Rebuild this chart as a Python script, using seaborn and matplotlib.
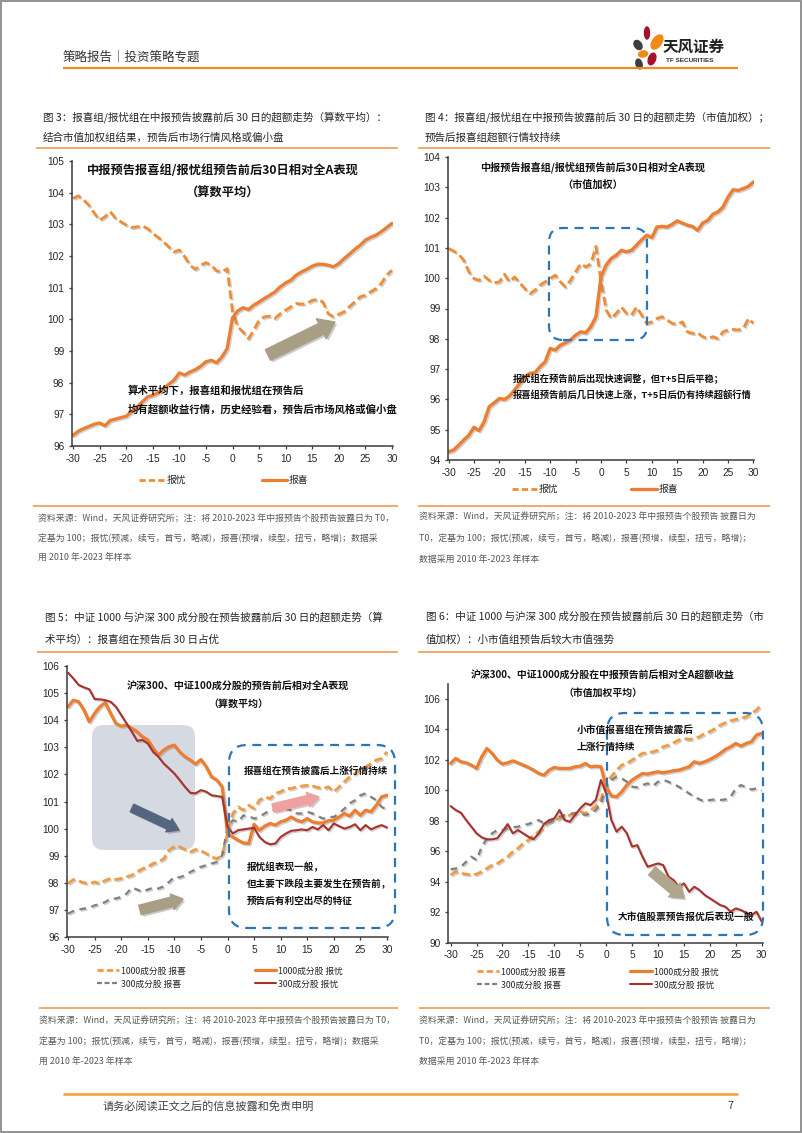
import matplotlib
matplotlib.use('Agg')
import numpy as np
import pandas as pd
import seaborn as sns
import matplotlib.pyplot as plt
import matplotlib.patheffects as pe
import matplotlib.transforms as mtransforms
from matplotlib.patches import FancyBboxPatch, FancyArrowPatch, Ellipse, Rectangle
from matplotlib.lines import Line2D

# ---------------- data ----------------
days = list(range(-30, 31))
xticks = list(range(-30, 31, 5))

# Fig 3 (arithmetic mean)
c1_you = [103.82, 103.90, 103.77, 103.60, 103.35, 103.13, 103.24, 103.40, 103.19, 103.08,
          102.98, 102.90, 102.92, 102.95, 102.87, 102.71, 102.59, 102.45, 102.29, 102.13,
          102.19, 101.98, 101.71, 101.58, 101.71, 101.79, 101.71, 101.53, 101.50, 101.60,
          100.25, 99.76, 99.60, 99.39, 99.66, 99.97, 100.08, 100.10, 100.03, 100.18,
          100.29, 100.40, 100.50, 100.48, 100.50, 100.60, 100.63, 100.55, 100.18, 100.08,
          100.16, 100.24, 100.40, 100.55, 100.71, 100.76, 100.87, 100.97, 101.13, 101.40, 101.55]
c1_xi = [96.34, 96.47, 96.55, 96.62, 96.69, 96.73, 96.64, 96.81, 96.85, 96.90,
         96.94, 97.08, 97.23, 97.39, 97.55, 97.60, 97.68, 97.81, 97.95, 98.08,
         98.31, 98.24, 98.34, 98.41, 98.52, 98.66, 98.71, 98.63, 98.81, 99.08,
         100.05, 100.27, 100.37, 100.31, 100.45, 100.55, 100.66, 100.76, 100.87, 101.03,
         101.15, 101.24, 101.40, 101.50, 101.58, 101.68, 101.74, 101.74, 101.71, 101.66,
         101.76, 101.92, 102.06, 102.21, 102.34, 102.50, 102.59, 102.66, 102.77, 102.90, 103.03]

# Fig 4 (market-cap weighted)
c2_you = [100.98, 100.90, 100.79, 100.59, 100.21, 99.99, 99.93, 100.07, 99.93, 99.85,
          99.88, 100.13, 99.88, 100.04, 99.85, 99.66, 99.49, 99.60, 99.77, 99.88,
          99.99, 100.10, 99.88, 99.71, 99.93, 100.21, 100.48, 100.37, 100.48, 101.05,
          99.90, 98.95, 98.67, 98.84, 99.05, 98.84, 98.78, 99.05, 98.78, 98.51,
          98.56, 98.67, 98.73, 98.62, 98.51, 98.48, 98.56, 98.23, 98.18, 98.20,
          98.07, 98.01, 98.07, 98.01, 98.23, 98.29, 98.31, 98.29, 98.34, 98.67, 98.51]
c2_xi = [94.27, 94.33, 94.49, 94.66, 94.82, 95.08, 94.97, 95.26, 95.76, 95.89,
         96.03, 96.00, 96.11, 96.31, 96.53, 96.75, 96.86, 96.88, 97.08, 97.24,
         97.68, 97.63, 97.79, 97.87, 97.96, 98.12, 98.23, 98.20, 98.40, 98.73,
         100.05, 100.43, 100.65, 100.76, 100.92, 100.87, 100.92, 101.09, 101.27, 101.42,
         101.34, 101.69, 101.71, 101.69, 101.78, 101.89, 101.82, 101.75, 101.71, 101.58,
         101.82, 101.91, 102.11, 102.19, 102.35, 102.68, 102.92, 102.90, 102.96, 103.03, 103.18]

# Fig 5 (arithmetic mean, index constituents)
c3_1000_xi = [97.97, 98.12, 98.07, 98.00, 97.97, 98.03, 97.97, 98.09, 98.16, 98.12,
              98.16, 98.22, 98.28, 98.40, 98.52, 98.59, 98.71, 98.77, 98.89, 99.20,
              99.35, 99.33, 99.23, 99.14, 99.23, 99.18, 99.08, 98.96, 98.89, 99.02,
              99.82, 100.56, 100.80, 100.68, 100.86, 100.74, 101.05, 101.17, 101.11, 101.30,
              101.36, 101.48, 101.48, 101.54, 101.57, 101.60, 101.57, 101.52, 101.48, 101.54,
              101.36, 101.54, 101.73, 101.91, 102.03, 102.16, 102.28, 102.40, 102.53, 102.59, 102.83]
c3_1000_you = [104.50, 104.74, 104.68, 104.37, 103.94, 104.25, 104.50, 104.65, 104.25, 103.88,
               103.78, 103.82, 103.70, 103.57, 103.39, 103.27, 102.96, 102.71, 102.90, 103.02,
               103.08, 102.83, 102.65, 102.53, 102.38, 102.55, 102.28, 101.91, 101.79, 101.54,
               99.82, 99.69, 99.57, 99.47, 99.45, 100.16, 99.94, 100.09, 100.19, 100.13,
               100.25, 100.31, 100.43, 100.31, 100.25, 100.37, 100.25, 100.21, 100.21, 100.29,
               100.31, 100.43, 100.56, 100.46, 100.68, 100.49, 100.68, 100.62, 100.86, 101.17, 101.23]
c3_300_xi = [96.86, 96.96, 97.01, 97.05, 97.08, 97.17, 97.21, 97.29, 97.42, 97.42,
             97.48, 97.60, 97.82, 97.75, 97.66, 97.75, 97.82, 97.79, 97.87, 98.03,
             98.22, 98.20, 98.28, 98.40, 98.49, 98.59, 98.65, 98.71, 98.77, 99.02,
             100.06, 100.31, 100.25, 100.49, 100.46, 100.37, 100.43, 100.56, 100.68, 100.70,
             100.74, 100.74, 100.68, 100.56, 100.56, 100.62, 100.56, 100.46, 100.37, 100.43,
             100.43, 100.56, 100.74, 100.93, 101.05, 101.23, 101.30, 101.17, 101.05, 100.80, 100.70]
c3_300_you = [105.75, 105.54, 105.30, 105.21, 105.14, 104.78, 104.77, 104.74, 104.68, 104.50,
              104.19, 103.88, 103.57, 103.24, 103.27, 103.14, 102.83, 102.65, 102.40, 102.22,
              102.03, 101.79, 101.54, 101.32, 101.30, 101.42, 101.36, 101.23, 101.20, 101.17,
              100.06, 99.82, 99.94, 99.97, 100.00, 100.03, 99.69, 99.51, 99.42, 99.45,
              99.69, 99.82, 99.92, 99.94, 99.97, 99.94, 100.06, 99.97, 100.13, 99.94,
              100.19, 100.09, 100.00, 100.06, 100.16, 99.94, 100.13, 99.97, 100.06, 100.13, 100.04]

# Fig 6 (market-cap weighted, index constituents)
c4_1000_xi = [94.44, 94.66, 94.55, 94.50, 94.44, 94.50, 94.66, 94.87, 95.09, 95.20,
              95.42, 95.64, 95.97, 96.19, 96.51, 96.73, 97.06, 97.28, 97.61, 97.93,
              98.04, 98.15, 98.26, 98.37, 98.48, 98.59, 98.48, 98.70, 98.92, 99.40,
              100.56, 100.89, 101.32, 101.65, 101.76, 101.98, 102.20, 102.42, 102.46, 102.52,
              102.63, 102.85, 102.96, 103.11, 103.29, 103.40, 103.33, 103.40, 103.51, 103.73,
              103.84, 104.05, 104.27, 104.43, 104.56, 104.64, 104.71, 104.82, 105.04, 105.26, 105.65]
c4_1000_you = [101.76, 102.09, 101.87, 101.80, 101.65, 101.43, 102.20, 102.74, 102.42, 101.98,
               101.72, 101.80, 101.93, 101.80, 101.65, 101.50, 101.32, 101.10, 100.99, 101.32,
               101.50, 101.43, 101.43, 101.43, 101.54, 101.58, 101.76, 101.54, 101.58, 101.54,
               100.23, 99.62, 99.57, 99.90, 100.34, 100.67, 100.89, 101.10, 101.06, 101.15,
               101.21, 101.15, 101.21, 101.28, 101.32, 101.43, 101.54, 101.87, 101.76, 101.87,
               102.02, 102.20, 102.42, 102.68, 102.85, 103.07, 102.90, 103.07, 103.18, 103.62, 103.73]
c4_300_xi = [94.81, 94.87, 94.98, 95.31, 95.64, 95.42, 96.30, 96.84, 97.17, 97.39,
             97.39, 97.50, 97.56, 97.61, 97.72, 97.78, 97.93, 98.04, 97.83, 97.87,
             98.04, 98.26, 98.37, 98.43, 98.52, 98.48, 98.37, 98.48, 98.70, 99.14,
             100.23, 100.67, 100.89, 100.78, 100.56, 100.23, 100.19, 100.34, 100.45, 100.27,
             100.56, 100.67, 100.56, 100.41, 100.23, 100.01, 99.79, 99.57, 99.40, 99.25,
             99.36, 99.40, 99.36, 99.40, 99.57, 100.12, 100.34, 100.19, 100.05, 100.12, 99.97]
c4_300_you = [98.96, 98.70, 98.52, 98.04, 97.61, 97.17, 96.91, 96.78, 96.78, 96.85,
              97.28, 97.78, 97.17, 97.39, 97.17, 96.95, 96.78, 97.17, 97.78, 98.04,
              98.15, 98.70, 98.04, 97.93, 98.37, 98.81, 99.14, 99.03, 99.36, 100.67,
              99.79, 98.04, 97.28, 97.61, 97.17, 96.30, 96.40, 95.64, 94.98, 95.09,
              95.20, 95.09, 94.33, 94.11, 93.67, 93.89, 93.34, 93.67, 93.45, 93.13,
              92.91, 92.69, 92.47, 92.36, 92.03, 92.25, 92.14, 91.97, 91.81, 92.03, 91.38]

lab_you, lab_xi = "报忧", "报喜"
lab_1000_xi, lab_1000_you = "1000成分股 报喜", "1000成分股 报忧"
lab_300_xi, lab_300_you = "300成分股 报喜", "300成分股 报忧"

# ---------------- style ----------------
sns.set_style('ticks')
plt.rcParams['font.family'] = ['Noto Sans CJK SC', 'DejaVu Sans']
plt.rcParams['axes.unicode_minus'] = False

ORANGE = '#ED7D31'
ORANGE_D = '#F08C35'
ORANGE_L = '#F29A42'
GRAY = '#7F7F7F'
RED = '#A8322B'
BLUE = '#2E75B6'
SEP = '#F2A35E'
TXT = '#262626'
SRC = '#595959'

W, H = 802, 1133
fig = plt.figure(figsize=(W / 100, H / 100), dpi=100)
fig.patch.set_facecolor('white')
PX = mtransforms.Affine2D().scale(0.01, -0.01).translate(0, H / 100) + fig.dpi_scale_trans
PXU = mtransforms.Affine2D().scale(0.01) + fig.dpi_scale_trans

shadow = [pe.SimpleLineShadow(offset=(1.0, -1.0), shadow_color='#7a7a7a', alpha=0.35), pe.Normal()]


def ftext(x, y, s, **kw):
    kw.setdefault('va', 'center')
    kw.setdefault('color', TXT)
    fig.text(x, y, s, transform=PX, **kw)


def hline(x0, x1, y, color, lw):
    fig.add_artist(Line2D([x0, x1], [y, y], transform=PX, color=color, lw=lw, solid_capstyle='butt'))


def place(l, t, r, b):
    return fig.add_axes([l / W, 1 - b / H, (r - l) / W, (b - t) / H])


def style_ax(ax, xlim, ylim, yticks):
    ax.set_xlim(*xlim)
    ax.set_ylim(*ylim)
    ax.set_xticks(xticks)
    ax.set_yticks(yticks)
    for s in ['top', 'right']:
        ax.spines[s].set_visible(False)
    for s in ['left', 'bottom']:
        ax.spines[s].set_color('#3a3a3a')
        ax.spines[s].set_linewidth(1.1)
    ax.tick_params(axis='both', labelsize=7.3, colors='#3a3a3a', labelcolor=TXT,
                   length=2.5, width=0.9, direction='out', pad=3)
    for lab in ax.get_xticklabels() + ax.get_yticklabels():
        lab.set_fontfamily('Liberation Sans')
    ax.set_xlabel('')
    ax.set_ylabel('')
    ax.patch.set_alpha(0)


def rbox(ax, x0, y0, x1, y1, r, **kw):
    p = FancyBboxPatch((x0, H - y1), x1 - x0, y1 - y0,
                       boxstyle=f'round,pad=0,rounding_size={r}', transform=PXU, clip_on=False, **kw)
    ax.add_patch(p)


def arrow(ax, x0, y0, x1, y1, color, tail, hw, hl, z=3):
    a = FancyArrowPatch((x0, H - y0), (x1, H - y1), transform=PXU,
                        arrowstyle=f'simple,head_length={hl},head_width={hw},tail_width={tail}',
                        mutation_scale=10, color=color, shrinkA=0, shrinkB=0, clip_on=False, zorder=z,
                        path_effects=[pe.SimplePatchShadow(offset=(1.5, -1.5), alpha=0.25), pe.Normal()])
    ax.add_patch(a)


def atext(ax, x, y, s, size, ha='left', bold=True):
    ax.text(x, y, s, transform=PX, fontsize=size, fontweight='bold' if bold else 'normal',
            ha=ha, va='center', color='#111111', clip_on=False, zorder=5)


def line(ax, y, color, lw, ls, label):
    sns.lineplot(x=days, y=y, ax=ax, color=color, linewidth=lw, linestyle=ls, label=label,
                 path_effects=shadow, zorder=2)


def proxies(ax):
    # plain legend keys with the same colour/width/dash as the drawn lines, without shadow
    hs = []
    for ln in ax.get_lines():
        hs.append(Line2D([], [], color=ln.get_color(), lw=ln.get_linewidth(),
                         linestyle=ln.get_linestyle() if ln.get_linestyle() == '-' else (0, (2.2, 1.2))))
    return hs


# ---------------- page frame & header ----------------
fig.add_artist(Rectangle((0.6, 0.6), W - 1.2, H - 1.2, transform=PXU, fill=False,
                         edgecolor='#8a8a8a', lw=1.3))
ftext(63, 57, "策略报告｜投资策略专题", fontsize=9, color='#333333')
hline(63, 738, 68, '#EE8A2B', 1.6)
for (cx, cy, w, h, ang, col) in [(647, 33, 5, 12, 0, '#A3112E'), (657, 42, 9, 16, -35, '#F08A12'),
                                 (638, 45, 7, 10, 35, '#3F3F3F'), (643, 54, 9, 6, 10, '#F08A12'),
                                 (652, 59, 7, 12, -20, '#A3112E'), (639, 64, 6, 10, 15, '#3F3F3F')]:
    fig.add_artist(Ellipse((cx, H - cy), w, h, angle=ang, transform=PXU, color=col))
ftext(663, 47, "天风证券", fontsize=11.2, fontweight='bold', color='#222222')
ftext(666, 61, "TF SECURITIES", fontsize=4.6, fontweight='bold', color='#333333',
      family=['Liberation Sans'])

# ---------------- figure titles ----------------
ftext(43, 117, "图 3：报喜组/报忧组在中报预告披露前后 30 日的超额走势（算数平均）：", fontsize=7.6)
ftext(43, 138, "结合市值加权组结果，预告后市场行情风格或偏小盘", fontsize=7.6)
hline(36, 398, 148, SEP, 1.3)
ftext(425, 117, "图 4：报喜组/报忧组在中报预告披露前后 30 日的超额走势（市值加权）；", fontsize=7.6)
ftext(425, 138, "预告后报喜组超额行情较持续", fontsize=7.6)
hline(418, 770, 148, SEP, 1.3)

ftext(45, 617, "图 5：中证 1000 与沪深 300 成分股在预告披露前后 30 日的超额走势（算", fontsize=7.6)
ftext(45, 640, "术平均）：报喜组在预告后 30 日占优", fontsize=7.6)
hline(37, 398, 652, SEP, 1.3)
ftext(426, 617, "图 6：中证 1000 与沪深 300 成分股在预告披露前后 30 日的超额走势（市", fontsize=7.6)
ftext(426, 640, "值加权）：小市值组预告后较大市值强势", fontsize=7.6)
hline(418, 770, 652, SEP, 1.3)

# ---------------- chart 1 ----------------
ax1 = place(72, 161, 393, 446)
line(ax1, c1_you, ORANGE_D, 2.0, (0, (3.2, 1.5)), lab_you)
line(ax1, c1_xi, ORANGE, 2.3, '-', lab_xi)
style_ax(ax1, (-30.2, 30.2), (96, 105), list(range(96, 106)))
ax1.legend(proxies(ax1), [lab_you, lab_xi], loc='center', bbox_to_anchor=(224 / W, 1 - 480 / H),
           bbox_transform=fig.transFigure, ncol=2, frameon=False, fontsize=7, handlelength=2.6,
           handletextpad=0.2, columnspacing=7.8)
atext(ax1, 223, 171, "中报预告报喜组/报忧组预告前后30日相对全A表现", 8.8, ha='center')
atext(ax1, 223, 193, "（算数平均）", 8.8, ha='center')
arrow(ax1, 268, 355, 335, 322, '#A89E86', 0.85, 1.6, 1.1)
atext(ax1, 128, 391, "算术平均下，报喜组和报忧组在预告后", 7.5)
atext(ax1, 128, 409, "均有超额收益行情，历史经验看，预告后市场风格或偏小盘", 7.5)

# ---------------- chart 2 ----------------
ax2 = place(448, 157, 754, 460)
line(ax2, c2_you, ORANGE_D, 2.0, (0, (3.2, 1.5)), lab_you)
line(ax2, c2_xi, ORANGE, 2.4, '-', lab_xi)
style_ax(ax2, (-30.1, 30.1), (94, 104), list(range(94, 105)))
ax2.legend(proxies(ax2), [lab_you, lab_xi], loc='center', bbox_to_anchor=(595 / W, 1 - 489 / H),
           bbox_transform=fig.transFigure, ncol=2, frameon=False, fontsize=7, handlelength=2.6,
           handletextpad=0.2, columnspacing=7.5)
atext(ax2, 593, 167, "中报预告报喜组/报忧组预告前后30日相对全A表现", 7.3, ha='center')
atext(ax2, 593, 185, "（市值加权）", 7.3, ha='center')
rbox(ax2, 549, 228, 647, 340, 14, fill=False, edgecolor=BLUE, lw=1.6, linestyle=(0, (4, 3)), zorder=3)
atext(ax2, 513, 379, "报忧组在预告前后出现快速调整，但T+5日后平稳；", 6.7)
atext(ax2, 513, 395, "报喜组预告前后几日快速上涨，T+5日后仍有持续超额行情", 6.7)

# ---------------- chart 3 ----------------
ax3 = place(67, 666, 388, 937)
rbox(ax3, 92, 725, 195, 850, 12, facecolor='#D5D9E2', edgecolor='none', zorder=0.5)
line(ax3, c3_1000_xi, ORANGE_L, 2.0, (0, (3.0, 1.5)), lab_1000_xi)
line(ax3, c3_300_xi, GRAY, 1.6, (0, (3.0, 2.5)), lab_300_xi)
line(ax3, c3_1000_you, ORANGE, 2.3, '-', lab_1000_you)
line(ax3, c3_300_you, RED, 1.5, '-', lab_300_you)
style_ax(ax3, (-30.2, 30.2), (96, 106), list(range(96, 107)))
ax3.legend(proxies(ax3), [lab_1000_xi, lab_300_xi, lab_1000_you, lab_300_you],
           loc='center', bbox_to_anchor=(220 / W, 1 - 977.5 / H), bbox_transform=fig.transFigure,
           ncol=2, frameon=False, fontsize=6.3, handlelength=2.5, handletextpad=0.2,
           columnspacing=7.9, labelspacing=0.45)
atext(ax3, 238, 687, "沪深300、中证100成分股的预告前后相对全A表现", 7.2, ha='center')
atext(ax3, 238, 704, "（算数平均）", 7.2, ha='center')
rbox(ax3, 229, 745, 395, 928, 18, fill=False, edgecolor=BLUE, lw=1.6, linestyle=(0, (4, 3)), zorder=3)
arrow(ax3, 132, 808, 179, 830, '#56657F', 0.6, 1.05, 0.8)
arrow(ax3, 140, 910, 183, 899, '#A89E86', 0.7, 1.15, 0.8)
arrow(ax3, 273, 808, 319, 797, '#EFA0A0', 0.6, 1.05, 0.8)
atext(ax3, 244, 771, "报喜组在预告披露后上涨行情持续", 6.9)
atext(ax3, 247, 867, "报忧组表现一般，", 6.9)
atext(ax3, 247, 884, "但主要下跌段主要发生在预告前，", 6.9)
atext(ax3, 247, 901, "预告后有利空出尽的特征", 6.9)

# ---------------- chart 4 ----------------
ax4 = place(448, 683.5, 763, 942.7)
line(ax4, c4_1000_xi, ORANGE_L, 2.0, (0, (3.0, 1.5)), lab_1000_xi)
line(ax4, c4_300_xi, GRAY, 1.6, (0, (3.0, 2.5)), lab_300_xi)
line(ax4, c4_1000_you, ORANGE, 2.3, '-', lab_1000_you)
line(ax4, c4_300_you, RED, 1.5, '-', lab_300_you)
style_ax(ax4, (-30.5, 30.25), (90, 107), list(range(90, 107, 2)))
ax4.legend(proxies(ax4), [lab_1000_xi, lab_300_xi, lab_1000_you, lab_300_you],
           loc='center', bbox_to_anchor=(598 / W, 1 - 978.5 / H), bbox_transform=fig.transFigure,
           ncol=2, frameon=False, fontsize=6.3, handlelength=2.5, handletextpad=0.2,
           columnspacing=7.4, labelspacing=0.45)
atext(ax4, 603, 676, "沪深300、中证1000成分股在中报预告前后相对全A超额收益", 7.1, ha='center')
atext(ax4, 603, 693, "（市值加权平均）", 7.1, ha='center')
rbox(ax4, 607, 713, 763, 935, 18, fill=False, edgecolor=BLUE, lw=1.6, linestyle=(0, (4, 3)), zorder=3)
arrow(ax4, 652, 871, 684, 898, '#B0A68E', 0.75, 1.3, 0.9)
atext(ax4, 577, 730, "小市值报喜组在预告披露后", 7.0)
atext(ax4, 577, 747, "上涨行情持续", 7.0)
atext(ax4, 618, 917, "大市值股票预告报优后表现一般", 7.0)

# ---------------- sources ----------------
hline(33, 398, 506, SEP, 1.3)
hline(418, 770, 506, SEP, 1.3)
hline(39, 398, 1008, SEP, 1.3)
hline(419, 770, 1008, SEP, 1.3)

srcA = ["资料来源：Wind，天风证券研究所；注：将 2010-2023 年中报预告个股预告披露日为 T0，",
        "定基为 100；报忧(预减，续亏，首亏，略减)，报喜(预增，续型，扭亏，略增)；数据采",
        "用 2010 年-2023 年样本"]
srcB = ["资料来源：Wind，天风证券研究所；注：将 2010-2023 年中报预告个股预告 披露日为",
        "T0，定基为 100；报忧(预减，续亏，首亏，略减)，报喜(预增，续型，扭亏，略增)；",
        "数据采用 2010 年-2023 年样本"]
for s, y in zip(srcA, [519, 538, 557]):
    ftext(38, y, s, fontsize=6.4, color=SRC)
for s, y in zip(srcB, [517, 538, 559]):
    ftext(419, y, s, fontsize=6.4, color=SRC)
for s, y in zip(srcA, [1021, 1041, 1061]):
    ftext(39, y, s, fontsize=6.4, color=SRC)
for s, y in zip(srcB, [1021, 1041, 1061]):
    ftext(419, y, s, fontsize=6.4, color=SRC)

# ---------------- footer ----------------
hline(63, 738, 1094, '#F2A12E', 1.8)
ftext(103, 1106, "请务必阅读正文之后的信息披露和免责申明", fontsize=8, color='#404040')
ftext(727, 1106, "7", fontsize=8, color='#404040')

fig.savefig('out.png', dpi=100, facecolor='white')
